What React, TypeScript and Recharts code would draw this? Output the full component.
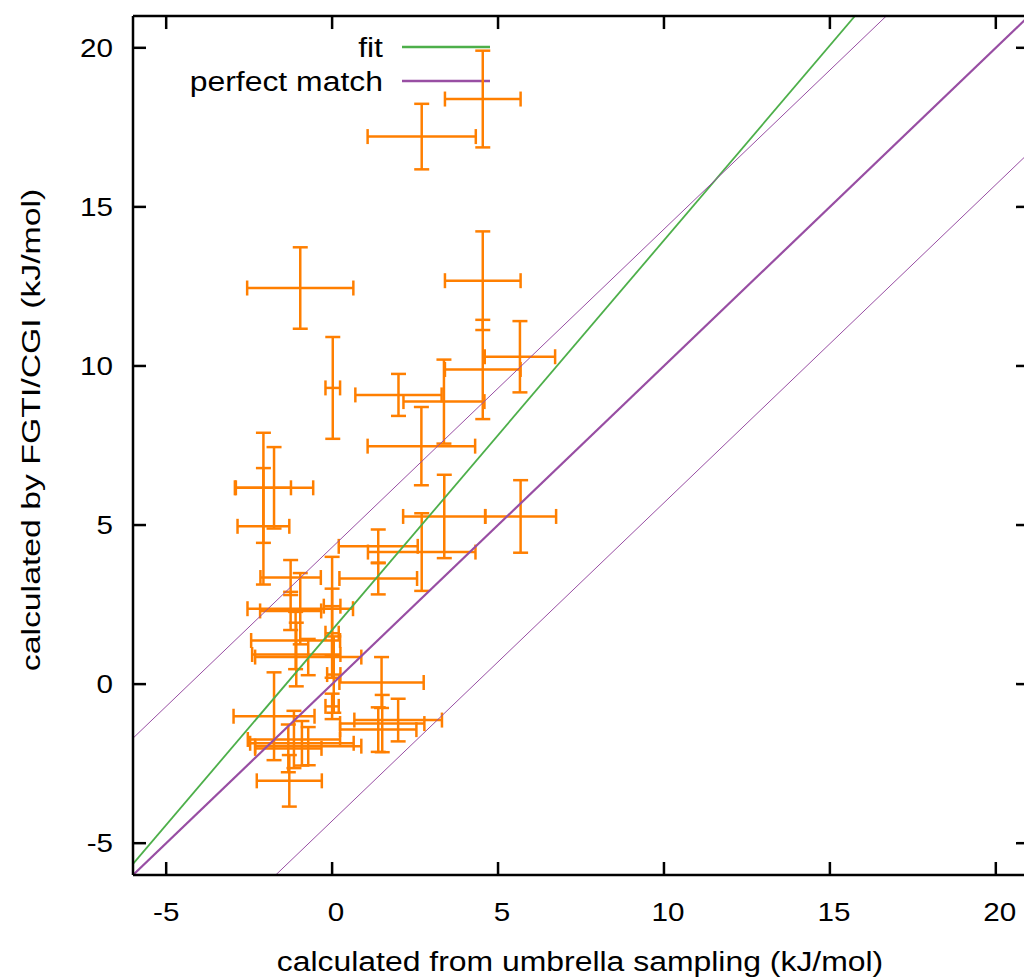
import React from 'react';
import { ScatterChart, Scatter, XAxis, YAxis, ErrorBar, ReferenceLine } from 'recharts';

// free energies (kJ/mol)
const umbrella = [
  4.54, 2.7, -0.96, 4.54, 5.66, 4.54, 0.02, 2.0, 3.37, 2.69,
  -2.07, -1.75, -2.07, 5.68, 3.38, 2.7, 1.39, 1.39, -1.25, -0.96,
  -1.25, -1.1, -1.08, -0.72, 0.0, 0.0, 0.05, 0.0, 1.49, -1.75,
  1.99, 1.51, 1.39, -1.29, -1.15, -0.91, -0.72, -1.32,
];
const fgti = [
  18.39, 17.21, 12.45, 12.68, 10.29, 9.89, 9.31, 9.09, 8.88, 7.48,
  6.17, 6.17, 4.96, 5.27, 5.27, 4.15, 4.33, 3.32, 3.35, 2.37,
  2.3, 1.37, 0.93, 0.85, 2.45, 1.6, 0.3, -0.7, 0.05, -1.01,
  -1.13, -1.24, -1.43, -3.04, -1.74, -1.86, -1.95, -2.02,
];
const umbrellaErr = [
  1.14, 1.63, 1.6, 1.14, 1.06, 1.14, 0.22, 1.3, 1.22, 1.62,
  0.83, 1.18, 0.78, 1.07, 1.24, 1.62, 1.19, 1.17, 0.91, 1.59,
  0.92, 1.34, 1.33, 1.6, 0.25, 0.2, 0.2, 0.2, 1.27, 1.22,
  1.32, 1.27, 1.15, 0.98, 1.39, 1.56, 1.6, 1.0,
];
const fgtiErr = [
  1.52, 1.03, 1.28, 1.55, 1.12, 1.56, 1.6, 0.66, 1.32, 1.23,
  1.73, 1.28, 1.83, 1.14, 1.31, 1.22, 0.53, 0.5, 0.55, 1.12,
  0.6, 0.9, 1.0, 0.57, 1.55, 1.4, 1.2, 0.4, 0.8, 1.38,
  0.67, 0.9, 0.7, 0.81, 0.9, 0.7, 0.6, 0.75,
];

const xTicks = [-5, 0, 5, 10, 15, 20];
const yTicks = [-5, 0, 5, 10, 15, 20];
const xDomain: [number, number] = [-6, 21];
const yDomain: [number, number] = [-6, 21];

// fit line and the perfect-match line with its +/- band
const lineNames = ['fit', 'perfect match', '', ''];
const lineSlopes = [1.225, 1, 1, 1];
const lineIntercepts = [1.7, 0, 4.3, -4.3];
const lineColors = ['#4daf4a', '#984ea3', '#984ea3', '#984ea3'];
const lineWidths = [1.8, 2.2, 1, 1];

const ORANGE = '#ff7f00';
const FONT = '"Liberation Sans", Arial, sans-serif';
const SX = 1.14;
const TOP_TICK = 0.41; // inward tick length on the top border, in y units (~13px)

const points = umbrella.map((x, i) => ({ x, y: fgti[i], ex: umbrellaErr[i], ey: fgtiErr[i] }));

function clipLine(m: number, b: number) {
  let xs = xDomain[0];
  let xe = xDomain[1];
  xs = Math.max(xs, (yDomain[0] - b) / m);
  xe = Math.min(xe, (yDomain[1] - b) / m);
  return [
    { x: xs, y: m * xs + b },
    { x: xe, y: m * xe + b },
  ];
}

const StretchText = ({ x, y, anchor, size, rotate = 0, sx = SX, children }: any) => (
  <text
    transform={`translate(${x},${y})${rotate ? ` rotate(${rotate})` : ''} scale(${sx},1)`}
    textAnchor={anchor}
    fontSize={size}
    fontFamily={FONT}
    fill="#000"
  >
    {children}
  </text>
);

const XTick = (props: any) => {
  const { x, y, payload } = props;
  const v = payload.value;
  return (
    <StretchText x={x + (v < 0 ? 0 : 4)} y={y + 46} anchor="middle" size={26}>
      {String(v)}
    </StretchText>
  );
};

const YTick = (props: any) => {
  const { x, y, payload } = props;
  return (
    <StretchText x={x - 20} y={y + 9} anchor="end" size={26}>
      {String(payload.value)}
    </StretchText>
  );
};

const Nothing = () => <g />;

const axisLine = { stroke: '#000', strokeWidth: 2.5 };
const tickLine = { stroke: '#000', strokeWidth: 2.5 };

export default function App() {
  return (
    <div style={{ position: 'absolute', left: 0, top: 0, width: 1024, height: 977, overflow: 'hidden', background: '#fff' }}>
      <ScatterChart width={1040} height={977} margin={{ top: 15, right: 11, bottom: 12, left: 13 }}>
        <XAxis
          type="number"
          dataKey="x"
          domain={xDomain}
          ticks={xTicks}
          allowDataOverflow
          interval={0}
          height={90}
          tickSize={-13}
          tickMargin={13}
          tick={<XTick />}
          axisLine={axisLine}
          tickLine={tickLine}
        />
        <XAxis
          xAxisId="top"
          orientation="top"
          type="number"
          dataKey="x"
          domain={xDomain}
          ticks={xTicks}
          allowDataOverflow
          interval={0}
          height={1}
          tickLine={false}
          tick={<Nothing />}
          axisLine={axisLine}
        />
        <YAxis
          type="number"
          dataKey="y"
          domain={yDomain}
          ticks={yTicks}
          allowDataOverflow
          interval={0}
          width={120}
          tickSize={-13}
          tickMargin={13}
          tick={<YTick />}
          axisLine={axisLine}
          tickLine={tickLine}
        />
        <YAxis
          yAxisId="right"
          orientation="right"
          mirror
          type="number"
          dataKey="y"
          domain={yDomain}
          ticks={yTicks}
          allowDataOverflow
          interval={0}
          width={20}
          tickSize={13}
          tick={<Nothing />}
          axisLine={axisLine}
          tickLine={tickLine}
        />
        {/* invisible copy bound to the mirror axes so they get drawn */}
        <Scatter
          data={points}
          dataKey="y"
          xAxisId="top"
          yAxisId="right"
          shape={<Nothing />}
          legendType="none"
          isAnimationActive={false}
        />
        <Scatter data={points} dataKey="y" fill={ORANGE} shape={<Nothing />} isAnimationActive={false}>
          <ErrorBar dataKey="ex" direction="x" width={7.5} stroke={ORANGE} strokeWidth={2.5} isAnimationActive={false} />
          <ErrorBar dataKey="ey" direction="y" width={7.5} stroke={ORANGE} strokeWidth={2.5} isAnimationActive={false} />
        </Scatter>
        {lineSlopes.map((m, i) => (
          <ReferenceLine
            key={i}
            segment={clipLine(m, lineIntercepts[i])}
            stroke={lineColors[i]}
            strokeWidth={lineWidths[i]}
            ifOverflow="hidden"
          />
        ))}
        {/* inward tick marks on the top border */}
        {xTicks.map((t) => (
          <ReferenceLine
            key={`tt${t}`}
            segment={[
              { x: t, y: yDomain[1] },
              { x: t, y: yDomain[1] - TOP_TICK },
            ]}
            stroke="#000"
            strokeWidth={2.5}
            ifOverflow="visible"
          />
        ))}
        <g>
          {lineNames.slice(0, 2).map((name, i) => (
            <g key={name}>
              <StretchText x={383} y={57 + i * 34} anchor="end" size={28}>
                {name}
              </StretchText>
              <line x1={402} x2={490} y1={47 + i * 34} y2={47 + i * 34} stroke={lineColors[i]} strokeWidth={2.5} />
            </g>
          ))}
        </g>
        <StretchText x={580} y={971} anchor="middle" size={28}>
          calculated from umbrella sampling (kJ/mol)
        </StretchText>
        <StretchText x={40} y={430} anchor="middle" size={26} rotate={-90} sx={1.3}>
          calculated by FGTI/CGI (kJ/mol)
        </StretchText>
      </ScatterChart>
    </div>
  );
}
